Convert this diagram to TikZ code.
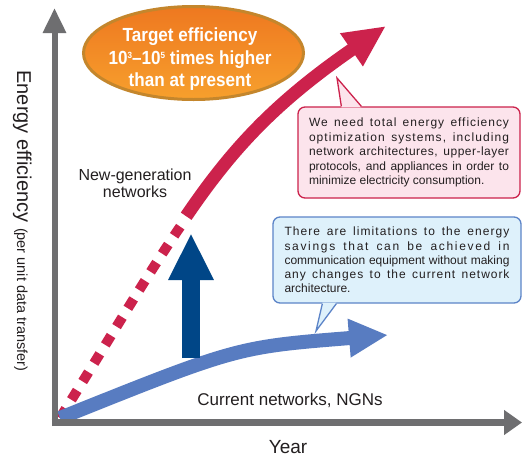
\documentclass[tikz,border=0pt]{standalone}
\usepackage{fontspec}
\setmainfont{Liberation Sans}
\newfontfamily\condbold[FakeStretch=0.9]{Liberation Sans Bold}
\usetikzlibrary{arrows.meta,shapes.geometric}
\definecolor{axisgray}{RGB}{110,110,112}
\definecolor{nred}{RGB}{204,34,76}
\definecolor{pinkfill}{RGB}{252,228,236}
\definecolor{cblue}{RGB}{88,124,193}
\definecolor{dblue}{RGB}{0,70,135}
\definecolor{bluefill}{RGB}{222,241,251}
\definecolor{bluebord}{RGB}{92,132,200}
\definecolor{txt}{RGB}{35,31,32}
\definecolor{orangetop}{RGB}{238,120,32}
\definecolor{orangebot}{RGB}{247,160,45}
\definecolor{gold}{RGB}{196,134,44}
\newcommand{\ls}[2]{{\addfontfeatures{LetterSpace=#1}#2}}
\newcommand{\supnum}[1]{\raisebox{6pt}{\fontsize{9}{9}\selectfont #1}}
\newcommand{\justpar}[2]{\parbox{#1}{\tolerance=10000 \hbadness=10000 #2}}
\begin{document}
\begin{tikzpicture}[x=1pt,y=-1pt,
  label/.style={text=txt, inner sep=0pt},
  callbox/.style={line width=1.3pt, rounded corners=7pt, inner ysep=0pt, text=txt},
  pinkbox/.style={callbox, draw=nred, fill=pinkfill, minimum width=222pt, minimum height=91pt,
     inner xsep=11pt, font=\fontsize{12}{14.4}\selectfont},
  bluebox/.style={callbox, draw=bluebord, fill=bluefill, minimum width=248pt, minimum height=86pt,
     inner xsep=11.5pt, font=\fontsize{12}{14.25}\selectfont},
  axisline/.style={axisgray}
]
\useasboundingbox (0,0) rectangle (522,456);
\fill[white] (0,0) rectangle (522,456);

% coordinates
\coordinate (O) at (60,418);
\coordinate (redc1) at (188,214);
\coordinate (redc2) at (215,144);
\coordinate (redtip) at (386,26);
\coordinate (bluec) at (237,347);
\coordinate (bluetip) at (388,335);
\coordinate (upbot) at (191,358);
\coordinate (uptip) at (191,233);
\coordinate (ycorner) at (54.5,426);
\coordinate (ytip) at (54.5,8);
\coordinate (xcorner) at (51.5,422.5);
\coordinate (xtip) at (522,422.5);
\coordinate (pinktip) at (337,78);
\coordinate (bluetail) at (316,331);

% red curve: dotted part and solid part
\draw[nred, line width=10pt,
  dash pattern=on 11pt off 10.5pt on 11pt off 10.5pt on 11pt off 10.5pt on 11pt off 10.5pt on 11pt off 10.5pt on 11pt off 10.5pt on 11pt off 10.5pt on 11pt off 10.5pt on 11pt off 10.5pt on 11pt off 10.5pt on 11pt off 3000pt]
  (O) .. controls (redc1) and (redc2) .. (redtip);
\draw[nred, line width=13pt, dash pattern=on 0pt off 238pt on 3000pt off 1pt,
  -{Triangle[length=42pt,width=37pt]}]
  (O) .. controls (redc1) and (redc2) .. (redtip);

% blue curve
\draw[cblue, line width=14pt, -{Triangle[length=39pt,width=36pt]}]
  (O) .. controls (bluec) .. (bluetip);

% dark blue up arrow
\draw[dblue, line width=18pt, -{Triangle[length=47pt,width=42pt]}] (upbot) -- (uptip);

% target ellipse
\node[ellipse, draw=gold, line width=3pt, top color=orangetop, bottom color=orangebot,
  minimum width=220pt, minimum height=93pt, inner sep=0pt] (target) at (193.5,53) {};
\node[text=white, align=center, font=\condbold\fontsize{19}{22.5}\selectfont] (targettext) at (190,59.4)
  {Target efficiency\\10\supnum{3}–10\supnum{5} times higher\\than at present};

% pink callout
\node[pinkbox] (need) at (409,152.5)
  {\justpar{200pt}{\ls{8}{We need total energy efficiency}\linebreak
   \ls{9}{optimization systems, including}\linebreak
   \ls{4}{network architectures, upper-layer}\linebreak
   protocols, and appliances in order to\linebreak
   minimize electricity consumption.}};
\fill[pinkfill] ([xshift=44pt,yshift=-1pt]need.north west) -- (pinktip) -- ([xshift=64pt,yshift=-1pt]need.north west) -- cycle;
\draw[nred, line width=1.3pt, line join=miter] ([xshift=44pt]need.north west) -- (pinktip) -- ([xshift=64pt]need.north west);

% blue callout
\node[bluebox] (limit) at (397,260)
  {\justpar{225pt}{\ls{9}{There are limitations to the energy}\linebreak
   \ls{14}{savings that can be achieved in}\linebreak
   communication equipment without making\linebreak
   \ls{8}{any changes to the current network}\linebreak
   architecture.}};
\fill[bluefill] ([xshift=50pt,yshift=1pt]limit.south west) -- (bluetail) -- ([xshift=64pt,yshift=1pt]limit.south west) -- cycle;
\draw[bluebord, line width=1.3pt, line join=miter] ([xshift=50pt]limit.south west) -- (bluetail) -- ([xshift=64pt]limit.south west);

% labels
\node[label, align=center, font=\fontsize{16}{17}\selectfont] (newgen) at (135,183.3) {New-generation\\networks};
\node[label, anchor=base, font=\fontsize{17}{20}\selectfont] (current) at (290,405) {Current networks, NGNs};
\node[label, anchor=base, font=\fontsize{19}{22}\selectfont] (year) at (288,453) {Year};
\node[label, anchor=base, rotate=-90, font=\fontsize{20}{24}\selectfont] (ylabel) at (17,221)
  {Energy efficiency {\fontsize{14.5}{17}\selectfont(per unit data transfer)}};

% axes
\draw[axisline, line width=6pt, -{Triangle[length=25pt,width=22pt]}] (ycorner) -- (ytip);
\draw[axisline, line width=6.5pt, -{Triangle[length=18pt,width=24pt]}] (xcorner) -- (xtip);
\end{tikzpicture}
\end{document}
